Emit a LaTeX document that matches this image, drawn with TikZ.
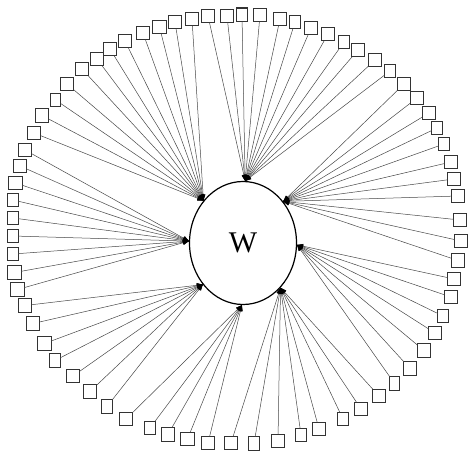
\documentclass[tikz,border=0pt]{standalone}
\usepackage{fontspec}
\setmainfont{Liberation Serif}
\usetikzlibrary{shapes.geometric,arrows.meta}
\begin{document}
\begin{tikzpicture}[x=1pt,y=-1pt,
  sq/.style={draw=black!80, line width=1.1pt, fill=white, minimum width=13.2pt, minimum height=13.4pt, inner sep=0pt, outer sep=0pt},
  nsq/.style={sq, minimum width=10.4pt, minimum height=13.4pt},
  edge/.style={draw=black!72, line width=0.5pt, -{Triangle[length=6pt,width=4.5pt,black]}},
  hub/.style={draw=black, line width=1.2pt, ellipse, minimum width=107pt, minimum height=123pt, inner sep=0pt, font=\fontsize{30}{32}\selectfont}]
\useasboundingbox (0,0) rectangle (468,457);
\node[hub] (W) at (243,243) {W};
\coordinate (tUL) at (W.133);
\coordinate (tT)  at (W.88);
\coordinate (tUR) at (W.46);
\coordinate (tR)  at (W.-2);
\coordinate (tLR) at (W.-50);
\coordinate (tB)  at (W.-91);
\coordinate (tLL) at (W.226);
\coordinate (tL)  at (W.178.5);
% upper-left group
\foreach \x/\y/\s [count=\i] in {192/19/sq, 175/22/sq, 159.5/27/sq, 143/33/sq, 125/41/sq, 110/49/sq, 97/59/sq, 82/69/sq, 67/84/sq, 55.5/100/nsq, 42/115.5/sq, 34/133/sq}
  {\node[\s] (ul\i) at (\x,\y) {}; \draw[edge] (ul\i) -- (tUL);}
% top group
\foreach \x/\y/\s [count=\i] in {208/16/sq, 227/16/sq, 242/14.7/nsq, 260/15/sq, 280/19/sq, 295/22/nsq, 311/28/sq, 328/34/sq, 344/42/nsq, 358/50/sq, 375/60/sq, 390/71/nsq}
  {\node[\s] (t\i) at (\x,\y) {}; \draw[edge] (t\i) -- (tT);}
% upper-right group
\foreach \x/\y/\s [count=\i] in {404/84/sq, 417/98/sq, 429/113/sq, 437/128/nsq, 444/144/nsq, 451/162/sq, 454/179/sq, 458/196/sq, 460/220/sq, 461/241/sq, 458/260.5/sq}
  {\node[\s] (ur\i) at (\x,\y) {}; \draw[edge] (ur\i) -- (tUR);}
% right group
\foreach \x/\y/\s [count=\i] in {454/279/sq, 451/297/sq, 443/316/nsq, 435/333/sq, 424/350.5/sq, 410/368.5/sq, 394.5/383.5/nsq}
  {\node[\s] (r\i) at (\x,\y) {}; \draw[edge] (r\i) -- (tR);}
% lower-right group
\foreach \x/\y/\s [count=\i] in {379/396/sq, 361/409/sq, 343/419/nsq, 319/429/sq, 301/435/nsq, 278/441/sq, 254/443.5/nsq, 231/443/sq}
  {\node[\s] (lr\i) at (\x,\y) {}; \draw[edge] (lr\i) -- (tLR);}
% bottom group
\foreach \x/\y/\s [count=\i] in {208/443/sq, 187.5/439/sq, 168/434.5/sq, 150/428/nsq, 126/419/sq}
  {\node[\s] (b\i) at (\x,\y) {}; \draw[edge] (b\i) -- (tB);}
% lower-left group
\foreach \x/\y/\s [count=\i] in {107/406.5/nsq, 90/391.5/sq, 73/376/sq, 55/360.5/nsq, 44.5/343.5/sq, 33/323.5/sq, 25/305.5/sq}
  {\node[\s] (ll\i) at (\x,\y) {}; \draw[edge] (ll\i) -- (tLL);}
% left group
\foreach \x/\y/\s [count=\i] in {17.5/289.5/sq, 14.5/272.5/sq, 13/254/nsq, 13/236/nsq, 13/218/nsq, 13/200/nsq, 15.5/183/sq, 20/166/sq, 25/150/sq}
  {\node[\s] (l\i) at (\x,\y) {}; \draw[edge] (l\i) -- (tL);}
\end{tikzpicture}
\end{document}
